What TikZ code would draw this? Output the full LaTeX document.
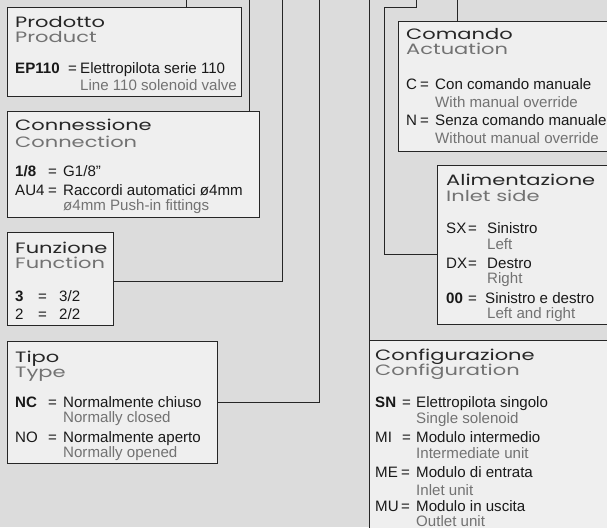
\documentclass[tikz,border=0pt]{standalone}
\usepackage{fontspec}
\setmainfont{Liberation Sans}
\newfontfamily\headfont{Poppins}[FakeStretch=1.4]
\usetikzlibrary{positioning}

\definecolor{sheet}{HTML}{DCDCDC}
\definecolor{card}{HTML}{EFEFEF}
\definecolor{rule}{HTML}{262626}
\definecolor{engl}{HTML}{727272}

\tikzset{
	panel/.style={draw=rule,line width=1.1pt,fill=card,anchor=north west,inner sep=0pt},
	wire/.style={draw=rule,line width=0.9pt},
	head/.style={anchor=base west,inner sep=0pt,text=black!85,font=\headfont\fontsize{15}{16}\selectfont},
	headen/.style={head,text=engl},
	txt/.style={anchor=base west,inner sep=0pt,text=black!90,font=\fontsize{15.1}{17}\selectfont},
	txten/.style={txt,text=engl},
	code/.style={txt,font=\bfseries\fontsize{15.1}{17}\selectfont}
}

\begin{document}
\begin{tikzpicture}[x=1pt,y=-1pt]
	\fill[sheet] (0,0) rectangle (607,527);
	\useasboundingbox (0,0) rectangle (607,527);
	\clip (0,0) rectangle (607,527);
	
	% boxes
	\node[panel,minimum width=234pt,minimum height=89pt] (prod) at (7,7) {};
	\node[panel,minimum width=252pt,minimum height=106pt] (conn) at (7,111) {};
	\node[panel,minimum width=106pt,minimum height=93pt] (funz) at (7,232) {};
	\node[panel,minimum width=210pt,minimum height=122pt] (tipo) at (7,341) {};
	\node[panel,minimum width=215pt,minimum height=130pt] (com) at (398,21) {};
	\node[panel,minimum width=176pt,minimum height=159pt] (alim) at (437,165) {};
	\node[panel,minimum width=245pt,minimum height=195pt] (conf) at (369,340) {};
	
	% connectors
	\coordinate (t1) at (186,0);
	\coordinate (t2) at (249,0);
	\coordinate (t3) at (282,0);
	\coordinate (t4) at (319,0);
	\coordinate (t5) at (369,0);
	\coordinate (t6) at (416,0);
	\coordinate (k6) at (384,7);
	\coordinate (t7) at (457,0);
	\draw[wire] (t1) -- (prod.north -| t1);
	\draw[wire] (t2) -- (conn.north -| t2);
	\draw[wire] (t3) |- ([yshift=-2.5pt]funz.east);
	\draw[wire] (t4) |- (tipo.east);
	\draw[wire] (t5) -- (conf.north west);
	\draw[wire] (t6) |- (k6) |- (alim.west |- 0,254);
	\draw[wire] (t7) -- (com.north -| t7);
	
	% Prodotto
	\node[head] (prodh) at (15,28) {Prodotto};
	\node[headen] (prode) at (15,43) {Product};
	\node[code] (ep) at (15,74) {EP110};
	\node[txt] (epq) at (68,74) {=};
	\node[txt] (epi) at (80,74) {Elettropilota serie 110};
	\node[txten] (epe) at (80,90) {Line 110 solenoid valve};
	
	% Connessione
	\node[head] (connh) at (15,130) {Connessione};
	\node[headen] (conne) at (15,147) {Connection};
	\node[code] (g8) at (15,176) {1/8};
	\node[txt] (g8q) at (48,176) {=};
	\node[txt] (g8i) at (63,176) {G1/8”};
	\node[txt] (au) at (15,195) {AU4};
	\node[txt] (auq) at (48,195) {=};
	\node[txt] (aui) at (63,195) {Raccordi automatici ø4mm};
	\node[txten] (aue) at (63,210) {ø4mm Push-in fittings};
	
	% Funzione
	\node[head] (funzh) at (15,253) {Funzione};
	\node[headen] (funze) at (15,268) {Function};
	\node[code] (v3) at (15,301) {3};
	\node[txt] (v3q) at (38,301) {=};
	\node[txt] (v3i) at (59,301) {3/2};
	\node[txt] (v2) at (15,319) {2};
	\node[txt] (v2q) at (38,319) {=};
	\node[txt] (v2i) at (59,319) {2/2};
	
	% Tipo
	\node[head] (tipoh) at (15,362) {Tipo};
	\node[headen] (tipoe) at (15,377) {Type};
	\node[code] (nc) at (15,407) {NC};
	\node[txt] (ncq) at (48,407) {=};
	\node[txt] (nci) at (63,407) {Normalmente chiuso};
	\node[txten] (nce) at (63,422) {Normally closed};
	\node[txt] (no) at (15,442) {NO};
	\node[txt] (noq) at (48,442) {=};
	\node[txt] (noi) at (63,442) {Normalmente aperto};
	\node[txten] (noe) at (63,457) {Normally opened};
	
	% Comando
	\node[head] (comh) at (406,40) {Comando};
	\node[headen] (come) at (406,55) {Actuation};
	\node[txt] (mc) at (406,89) {C};
	\node[txt] (mcq) at (420,89) {=};
	\node[txt] (mci) at (435,89) {Con comando manuale};
	\node[txten] (mce) at (435,107) {With manual override};
	\node[txt] (mn) at (406,125) {N};
	\node[txt] (mnq) at (420,125) {=};
	\node[txt] (mni) at (435,125) {Senza comando manuale};
	\node[txten] (mne) at (435,143) {Without manual override};
	
	% Alimentazione
	\node[head] (alimh) at (446,185) {Alimentazione};
	\node[headen] (alime) at (446,201) {Inlet side};
	\node[txt] (sx) at (446,233) {SX};
	\node[txt] (sxq) at (468,233) {=};
	\node[txt] (sxi) at (487,233) {Sinistro};
	\node[txten] (sxe) at (487,249) {Left};
	\node[txt] (dx) at (446,268) {DX};
	\node[txt] (dxq) at (468,268) {=};
	\node[txt] (dxi) at (487,268) {Destro};
	\node[txten] (dxe) at (487,283) {Right};
	\node[code] (oo) at (446,303) {00};
	\node[txt] (ooq) at (468,303) {=};
	\node[txt] (ooi) at (485,303) {Sinistro e destro};
	\node[txten] (ooe) at (487,318) {Left and right};
	
	% Configurazione
	\node[head] (confh) at (375,360) {Configurazione};
	\node[headen] (confe) at (375,375) {Configuration};
	\node[code] (sn) at (375,407) {SN};
	\node[txt] (snq) at (402,407) {=};
	\node[txt] (sni) at (416,407) {Elettropilota singolo};
	\node[txten] (sne) at (416,423) {Single solenoid};
	\node[txt] (mi) at (375,442) {MI};
	\node[txt] (miq) at (402,442) {=};
	\node[txt] (mii) at (416,442) {Modulo intermedio};
	\node[txten] (mie) at (416,458) {Intermediate unit};
	\node[txt] (me) at (375,477) {ME};
	\node[txt] (meq) at (401,477) {=};
	\node[txt] (mei) at (416,477) {Modulo di entrata};
	\node[txten] (mee) at (416,495) {Inlet unit};
	\node[txt] (mu) at (375,511) {MU};
	\node[txt] (muq) at (401,511) {=};
	\node[txt] (mui) at (416,511) {Modulo in uscita};
	\node[txten] (mue) at (416,526) {Outlet unit};
\end{tikzpicture}
\end{document}
